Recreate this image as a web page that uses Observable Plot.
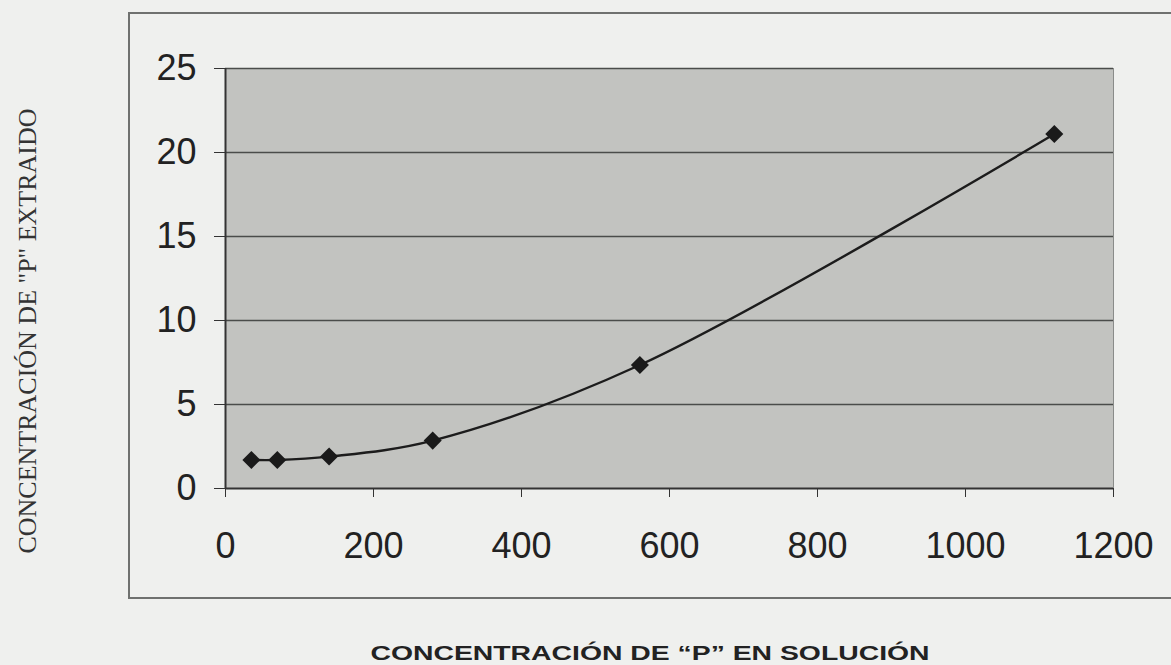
<!DOCTYPE html>
<html>
<head>
<meta charset="utf-8">
<script src="https://cdn.jsdelivr.net/npm/d3@7"></script>
<script src="https://cdn.jsdelivr.net/npm/@observablehq/plot@0.6"></script>
<style>
  html, body { margin: 0; padding: 0; background: #eff0ee; }
  #wrap { position: relative; width: 1171px; height: 665px; overflow: hidden; }
  #box { position: absolute; left: 128px; top: 12px; width: 1060px; height: 587px;
         border: 2px solid #6f716f; box-sizing: border-box; }
  #chart { position: absolute; left: 0; top: 0; }
  #xtitle { position: absolute; left: 650px; top: 653px; transform: translate(-50%, -50%) scaleX(1.35);
            white-space: nowrap; font: bold 21px "Liberation Sans", Arial, sans-serif; color: #222; }
  #ytitle { position: absolute; left: 28px; top: 331px; transform: translate(-50%, -50%) rotate(-90deg);
            white-space: nowrap; font: 26px "Liberation Serif", "Times New Roman", serif; color: #333; }
</style>
</head>
<body>
<div id="wrap">
  <div id="box"></div>
  <div id="chart"></div>
  <div id="xtitle">CONCENTRACIÓN DE “P” EN SOLUCIÓN</div>
  <div id="ytitle">CONCENTRACIÓN DE "P" EXTRAIDO</div>
</div>
<script>
// P concentration in solution vs. P extracted
const solucion = [35, 70, 140, 280, 560, 1120];
const extraido = [1.7, 1.7, 1.9, 2.85, 7.35, 21.1];
const xTicks = [0, 200, 400, 600, 800, 1000, 1200];
const yTicks = [0, 5, 10, 15, 20, 25];

const data = solucion.map((x, i) => ({x, y: extraido[i]}));

const chart = Plot.plot({
  width: 1171,
  height: 665,
  marginLeft: 225,
  marginRight: 58,
  marginTop: 68,
  marginBottom: 177,
  style: {background: "transparent", fontFamily: "'Liberation Sans', Arial, sans-serif", fontSize: "36px", color: "#222"},
  x: {domain: [0, 1200], ticks: xTicks},
  y: {domain: [0, 25], ticks: yTicks},
  marks: [
    Plot.frame({fill: "#c2c3c0", stroke: "#8a8c8a", strokeWidth: 1}),
    Plot.ruleY(yTicks.filter(d => d > 0), {stroke: "#4a4c4a", strokeWidth: 1.5}),
    Plot.ruleY([0], {stroke: "#333", strokeWidth: 2}),
    Plot.ruleX([0], {stroke: "#333", strokeWidth: 2}),
    Plot.axisX({ticks: xTicks, tickFormat: "d", tickSize: 9, tickPadding: 35, fontSize: 36, label: null, stroke: "#333"}),
    Plot.axisY({ticks: yTicks, tickFormat: "d", tickSize: 11, tickPadding: 18, fontSize: 36, label: null, stroke: "#333"}),
    Plot.line(data, {x: "x", y: "y", curve: "catmull-rom", stroke: "#1c1c1c", strokeWidth: 2.4}),
    Plot.dot(data, {x: "x", y: "y", symbol: "square", rotate: 45, r: 7.2, fill: "#1a1a1a", stroke: "none"})
  ]
});
document.getElementById("chart").appendChild(chart);
</script>
</body>
</html>
